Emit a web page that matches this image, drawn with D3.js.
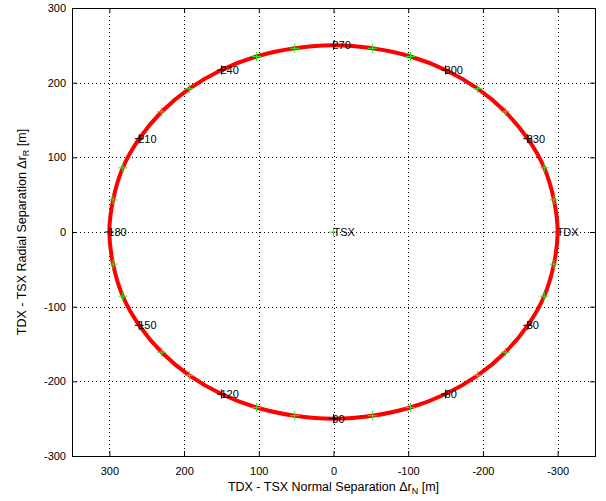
<!DOCTYPE html>
<html>
<head>
<meta charset="utf-8">
<script src="https://cdnjs.cloudflare.com/ajax/libs/d3/7.8.5/d3.min.js"></script>
<style>
  body { margin: 0; background: #fff; }
  svg text { font-family: Arial, "Liberation Sans", sans-serif; }
</style>
</head>
<body>
<div id="grafico"></div>
<script>
// argument of latitude [deg] and relative position of TDX w.r.t. TSX [m]
var argLat = [0, 10, 20, 30, 40, 50, 60, 70, 80, 90, 100, 110, 120, 130, 140, 150, 160, 170,
              180, 190, 200, 210, 220, 230, 240, 250, 260, 270, 280, 290, 300, 310, 320, 330, 340, 350];
var normalSep = [-300, -295, -282, -260, -230, -193, -150, -103, -52, 0, 52, 103, 150, 193, 230, 260, 282, 295,
                 300, 295, 282, 260, 230, 193, 150, 103, 52, 0, -52, -103, -150, -193, -230, -260, -282, -295];
var radialSep = [0, -43, -86, -125, -161, -192, -217, -235, -246, -250, -246, -235, -217, -192, -161, -125, -86, -43,
                 0, 43, 86, 125, 161, 192, 217, 235, 246, 250, 246, 235, 217, 192, 161, 125, 86, 43];
var xTicks = [300, 200, 100, 0, -100, -200, -300];
var yTicks = [-300, -200, -100, 0, 100, 200, 300];
var labelStep = 30;

var m = {top: 8, right: 11, bottom: 45, left: 72}
    , W = 606, H = 501
    , w = W - m.left - m.right
    , h = H - m.top - m.bottom;

var svg = d3.select("#grafico").append("svg")
    .attr("width", W)
    .attr("height", H);

var g = svg.append("g").attr("transform", "translate(" + m.left + "," + m.top + ")");

var x = d3.scaleLinear().domain([350, -350]).range([0, w]);
var y = d3.scaleLinear().domain([-300, 300]).range([h, 0]);

// grid
g.selectAll(".gx").data(xTicks).enter().append("line")
    .attr("x1", function(d) { return Math.round(x(d)) + 0.5; })
    .attr("x2", function(d) { return Math.round(x(d)) + 0.5; })
    .attr("y1", 0).attr("y2", h)
    .attr("stroke", "#000").attr("stroke-width", 1)
    .attr("stroke-dasharray", "1,3");
g.selectAll(".gy").data(yTicks).enter().append("line")
    .attr("y1", function(d) { return Math.round(y(d)) + 0.5; })
    .attr("y2", function(d) { return Math.round(y(d)) + 0.5; })
    .attr("x1", 0).attr("x2", w)
    .attr("stroke", "#000").attr("stroke-width", 1)
    .attr("stroke-dasharray", "1,3");

// axes (ticks inward, box on)
var fmt = function(d) { return d; };
g.append("g").attr("transform", "translate(0," + h + ")")
    .call(d3.axisBottom(x).tickValues(xTicks).tickSize(-5).tickPadding(11).tickFormat(fmt));
g.append("g")
    .call(d3.axisTop(x).tickValues(xTicks).tickSize(-5).tickFormat(""));
g.append("g")
    .call(d3.axisLeft(y).tickValues(yTicks).tickSize(-5).tickPadding(6).tickFormat(fmt));
g.append("g").attr("transform", "translate(" + w + ",0)")
    .call(d3.axisRight(y).tickValues(yTicks).tickSize(-5).tickFormat(""));

g.selectAll(".domain").attr("stroke", "#000").attr("stroke-width", 1);
g.selectAll(".tick line").attr("stroke", "#000");
g.selectAll(".tick text").style("font-size", "11px").attr("fill", "#000");

// orbit
var pts = argLat.map(function(a, i) { return {u: a, n: normalSep[i], r: radialSep[i]}; });

var line = d3.line()
    .x(function(d) { return x(d.n); })
    .y(function(d) { return y(d.r); })
    .curve(d3.curveCatmullRomClosed.alpha(0.5));

g.append("path")
    .datum(pts)
    .attr("d", line)
    .attr("fill", "none")
    .attr("stroke", "#ff0000")
    .attr("stroke-width", 4);

function plus(sel, color, size) {
    sel.append("path")
        .attr("d", "M" + (-size) + ",0H" + size + "M0," + (-size) + "V" + size)
        .attr("stroke", color)
        .attr("stroke-width", 1)
        .attr("fill", "none");
}

var mk = g.selectAll(".mk")
    .data(pts)
    .enter().append("g")
    .attr("transform", function(d) { return "translate(" + x(d.n) + "," + y(d.r) + ")"; });

mk.filter(function(d) { return d.u % labelStep != 0; }).call(plus, "#22ee22", 4.5);
mk.filter(function(d) { return d.u % labelStep == 0 && d.u != 0; }).call(plus, "#000", 4.5);
mk.filter(function(d) { return d.u == 0; }).call(plus, "#ff0000", 4.5);

mk.filter(function(d) { return d.u % labelStep == 0; })
    .append("text")
    .attr("x", -1)
    .attr("dy", "0.35em")
    .style("font-size", "11px")
    .attr("fill", "#000")
    .text(function(d) { return d.u == 0 ? "TDX" : d.u; });

// TSX at origin
var tsx = g.append("g").attr("transform", "translate(" + x(0) + "," + y(0) + ")");
plus(tsx, "#22ee22", 4.5);
tsx.append("text")
    .attr("x", 0)
    .attr("dy", "0.35em")
    .style("font-size", "11px")
    .attr("fill", "#000")
    .text("TSX");

// axis labels
var xl = svg.append("text")
    .attr("x", m.left + x(0))
    .attr("y", 491)
    .attr("text-anchor", "middle")
    .style("font-size", "12.5px");
xl.append("tspan").text("TDX - TSX Normal Separation \u0394r");
xl.append("tspan").attr("dy", 3).style("font-size", "9px").text("N");
xl.append("tspan").attr("dy", -3).text(" [m]");

var yl = svg.append("text")
    .attr("transform", "translate(26," + (m.top + y(0)) + ")rotate(-90)")
    .attr("text-anchor", "middle")
    .style("font-size", "12.5px");
yl.append("tspan").text("TDX - TSX Radial Separation \u0394r");
yl.append("tspan").attr("dy", 3).style("font-size", "9px").text("R");
yl.append("tspan").attr("dy", -3).text(" [m]");
</script>
</body>
</html>
